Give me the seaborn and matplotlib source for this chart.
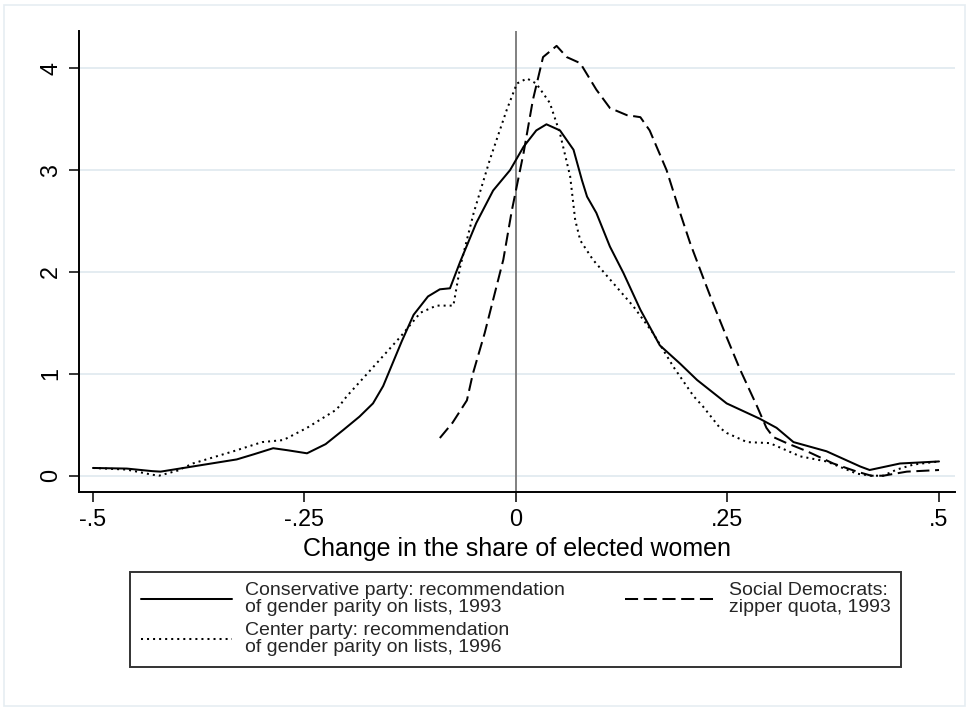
import matplotlib
matplotlib.use("Agg")
import matplotlib.pyplot as plt
from matplotlib.patches import Rectangle
import seaborn as sns
import pandas as pd

# ---- data ----
cons_x = [-0.50, -0.46, -0.43, -0.42, -0.39, -0.36, -0.33, -0.31, -0.287, -0.27, -0.247,
          -0.225, -0.204, -0.185, -0.169, -0.157, -0.149, -0.135, -0.121, -0.104, -0.09,
          -0.078, -0.066, -0.047, -0.027, -0.007, 0.009, 0.024, 0.036, 0.052, 0.068,
          0.078, 0.084, 0.095, 0.111, 0.127, 0.147, 0.170, 0.194, 0.214, 0.249, 0.288,
          0.308, 0.328, 0.367, 0.407, 0.418, 0.454, 0.50]
cons_y = [0.076, 0.07, 0.045, 0.04, 0.08, 0.12, 0.16, 0.21, 0.27, 0.25, 0.22,
          0.31, 0.45, 0.58, 0.71, 0.88, 1.04, 1.32, 1.58, 1.76, 1.83,
          1.84, 2.10, 2.48, 2.80, 3.00, 3.23, 3.39, 3.45, 3.39, 3.20,
          2.90, 2.74, 2.58, 2.25, 1.99, 1.63, 1.28, 1.10, 0.94, 0.71, 0.56,
          0.47, 0.33, 0.24, 0.09, 0.056, 0.12, 0.14]

cent_x = [-0.50, -0.46, -0.43, -0.422, -0.40, -0.382, -0.334, -0.30, -0.275, -0.247,
          -0.212, -0.20, -0.176, -0.137, -0.113, -0.094, -0.074, -0.066, -0.057, -0.05,
          -0.031, -0.011, 0.001, 0.013, 0.024, 0.040, 0.052, 0.064, 0.070, 0.076,
          0.091, 0.115, 0.139, 0.162, 0.186, 0.210, 0.221, 0.241, 0.249, 0.273,
          0.300, 0.336, 0.367, 0.403, 0.42, 0.434, 0.45, 0.47, 0.50]
cent_y = [0.076, 0.06, 0.01, 0.0, 0.05, 0.12, 0.24, 0.33, 0.35, 0.47,
          0.65, 0.78, 1.0, 1.36, 1.60, 1.67, 1.67, 2.05, 2.35, 2.58,
          3.10, 3.59, 3.85, 3.90, 3.85, 3.66, 3.36, 2.94, 2.51, 2.31,
          2.12, 1.89, 1.66, 1.40, 1.07, 0.78, 0.68, 0.47, 0.42, 0.33,
          0.32, 0.19, 0.14, 0.02, 0.0, 0.0, 0.06, 0.11, 0.14]

soc_x = [-0.09, -0.075, -0.058, -0.051, -0.037, -0.019, -0.015, -0.005, 0.009, 0.020,
         0.032, 0.048, 0.060, 0.076, 0.095, 0.111, 0.131, 0.147, 0.158, 0.178,
         0.194, 0.206, 0.221, 0.233, 0.249, 0.265, 0.285, 0.296, 0.304, 0.320,
         0.344, 0.375, 0.403, 0.42, 0.434, 0.462, 0.50]
soc_y = [0.37, 0.52, 0.74, 1.0, 1.40, 1.99, 2.12, 2.60, 3.17, 3.69,
         4.11, 4.22, 4.11, 4.05, 3.79, 3.61, 3.54, 3.52, 3.39, 3.00,
         2.58, 2.28, 1.95, 1.69, 1.36, 1.04, 0.68, 0.47, 0.38, 0.32,
         0.24, 0.12, 0.04, 0.0, 0.0, 0.04, 0.056]

labels = ["Conservative party: recommendation\nof gender parity on lists, 1993",
          "Center party: recommendation\nof gender parity on lists, 1996",
          "Social Democrats:\nzipper quota, 1993"]
x_ticks = [-0.5, -0.25, 0, 0.25, 0.5]
x_ticklabels = ["-.5", "-.25", "0", ".25", ".5"]
y_ticks = [0, 1, 2, 3, 4]
y_ticklabels = ["0", "1", "2", "3", "4"]
x_title = "Change in the share of elected women"

# ---- style ----
sns.set_theme(style="white")
plt.rcParams["font.family"] = ["Liberation Sans", "DejaVu Sans"]

fig = plt.figure(figsize=(9.69, 7.10), dpi=100)
fig.patch.set_facecolor("white")
ax = fig.add_axes([79 / 969, 1 - 491.7 / 710, (955 - 79) / 969, (491.7 - 30.7) / 710])

grid_col = "#e4ecf1"
for yv in y_ticks:
    ax.axhline(yv, color=grid_col, lw=1.4, zorder=0)
ax.axvline(0, color="#808080", lw=1.4, zorder=1)

lw = 1.45
df_c = pd.DataFrame({"x": cons_x, "y": cons_y})
df_e = pd.DataFrame({"x": cent_x, "y": cent_y})
df_s = pd.DataFrame({"x": soc_x, "y": soc_y})

sns.lineplot(data=df_c, x="x", y="y", ax=ax, color="black", lw=lw, sort=False,
             estimator=None, label=labels[0], zorder=3)
sns.lineplot(data=df_e, x="x", y="y", ax=ax, color="black", lw=lw, sort=False,
             estimator=None, label=labels[1], dashes=False, zorder=3)
sns.lineplot(data=df_s, x="x", y="y", ax=ax, color="black", lw=lw, sort=False,
             estimator=None, label=labels[2], zorder=3)
lines = ax.get_lines()[-3:]
lines[1].set_dashes((1.0, 2.0))
lines[2].set_dashes((6.5, 2.8))

ax.set_xlim(-0.5165, 0.5189)
ax.set_ylim(-0.157, 4.369)
ax.set_xticks(x_ticks)
ax.set_xticklabels(x_ticklabels)
ax.set_yticks(y_ticks)
ax.set_yticklabels(y_ticklabels, rotation=90, va="center")
ax.tick_params(axis="both", direction="out", length=7.2, width=1.1, color="black",
               labelsize=16.8, labelcolor="black", bottom=True, left=True)
ax.tick_params(axis="x", pad=4.5)
ax.tick_params(axis="y", pad=5)
ax.set_xlabel(x_title, fontsize=18, color="black", labelpad=4)
ax.set_ylabel("")

for s in ["top", "right"]:
    ax.spines[s].set_visible(False)
for s in ["left", "bottom"]:
    ax.spines[s].set_color("black")
    ax.spines[s].set_linewidth(1.4)

ax.get_legend().remove()
handles = [lines[0], lines[1], lines[2]]
leg = fig.legend(handles, labels, ncol=2, loc="upper left",
                 bbox_to_anchor=(130 / 969, 1 - 571.7 / 710, (901 - 130) / 969, 0),
                 bbox_transform=fig.transFigure, mode="expand", borderaxespad=0,
                 fontsize=14, handlelength=4.7, handletextpad=0.65, borderpad=0.55,
                 labelspacing=0.3, frameon=True, fancybox=False, edgecolor="black")
leg.get_frame().set_linewidth(1.4)
for t in leg.get_texts():
    t.set_linespacing(1.0)

fig.patches.append(Rectangle((4 / 969, 4 / 710), 961 / 969, 701 / 710, transform=fig.transFigure,
                             fill=False, edgecolor="#e6edf2", lw=1.2, zorder=0))

fig.savefig("out.png", dpi=100, facecolor="white")
